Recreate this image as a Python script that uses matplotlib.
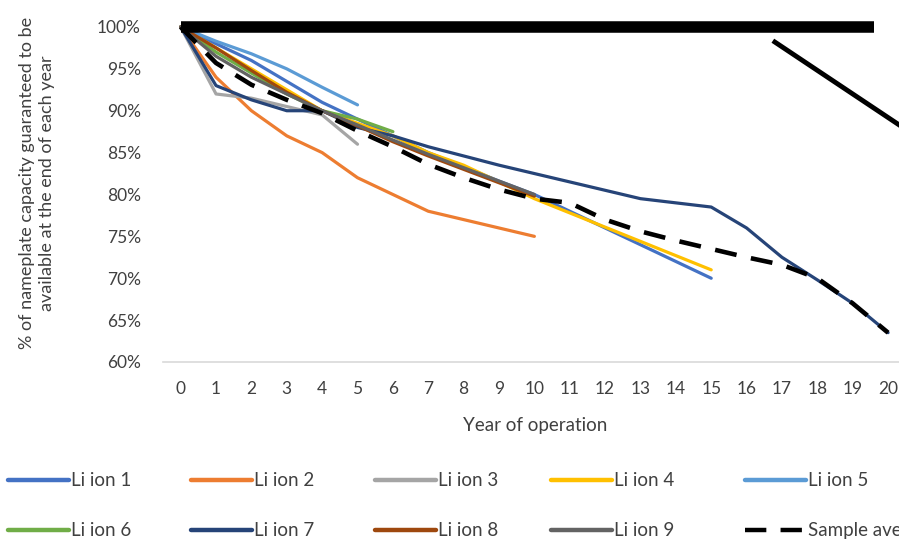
import matplotlib.pyplot as plt

plt.rcParams['font.family'] = ['Lato', 'DejaVu Sans']

years = list(range(21))

# % of nameplate capacity per year
liion_1 = [100, 98, 96, 93.5, 91, 89, 87, 85, 83.3, 81.6, 80, 78, 76, 74, 72, 70]
liion_2 = [100, 94, 90, 87, 85, 82, 80, 78, 77, 76, 75]
liion_3 = [100, 92, 91.5, 90.5, 89.5, 86]
liion_4 = [100, 97.5, 95, 92.5, 90, 88.5, 87, 85, 83.5, 81.5, 79.5, 77.8, 76.1, 74.4, 72.7, 71]
liion_5 = [100, 98.3, 96.8, 95, 92.8, 90.7]
liion_6 = [100, 97, 94.5, 92, 90, 89, 87.5]
liion_7 = [100, 93, 91.3, 90, 90, 88, 87, 85.7, 84.6, 83.5, 82.5, 81.5, 80.5, 79.5, 79, 78.5,
           76, 72.5, 69.8, 67, 63.5]
liion_8 = [100, 97.5, 94.8, 92.2, 90, 88.2, 86.3, 84.6, 83, 81.4, 79.8]
liion_9 = [100, 96.5, 94, 92, 90, 88.3, 86.5, 84.8, 83.2, 81.6, 80]
sample_avg = [100, 95.7, 93.1, 91.3, 89.7, 87.6, 85.7, 83.6, 82, 80.6, 79.5, 79, 77, 75.6, 74.5,
              73.5, 72.5, 71.6, 70, 67, 63.5]

# black marks drawn over the chart
bar_x = [0, 19.6]
bar_y = [100, 100]
slash_x = [16.8, 20.6]
slash_y = [98.2, 87.5]

series = [
    ('Li ion 1', liion_1, '#4472C4'),
    ('Li ion 2', liion_2, '#ED7D31'),
    ('Li ion 3', liion_3, '#A5A5A5'),
    ('Li ion 4', liion_4, '#FFC000'),
    ('Li ion 5', liion_5, '#5B9BD5'),
    ('Li ion 6', liion_6, '#70AD47'),
    ('Li ion 7', liion_7, '#264478'),
    ('Li ion 8', liion_8, '#9E480E'),
    ('Li ion 9', liion_9, '#636363'),
]

fig = plt.figure(figsize=(8.99, 5.44), dpi=100)
ax = fig.add_axes([0.1813, 0.3346, 1.0075 - 0.1813, 0.9504 - 0.3346])

handles = []
for name, vals, col in series:
    h, = ax.plot(years[:len(vals)], vals, color=col, lw=2.3, clip_on=False,
                 solid_capstyle='round', label=name)
    handles.append(h)
h, = ax.plot(years, sample_avg, color='black', lw=3.3, ls=(0, (4.8, 3.2)),
             clip_on=False, label='Sample average')
handles.append(h)

ax.plot(bar_x, bar_y, color='black', lw=8.3, clip_on=False, solid_capstyle='butt')
ax.plot(slash_x, slash_y, color='black', lw=3.5, clip_on=False)

ax.set_xlim(-0.5, 20.5)
ax.set_ylim(60, 100)
ax.set_xticks(years)
ax.set_yticks(range(60, 101, 5))
ax.set_yticklabels([f'{v}%' for v in range(60, 101, 5)])
for s in ['top', 'right', 'left']:
    ax.spines[s].set_visible(False)
ax.spines['bottom'].set_color('#D9D9D9')
ax.spines['bottom'].set_linewidth(1.2)
ax.tick_params(length=0, labelsize=12.5, colors='#404040')
ax.tick_params(axis='y', pad=16)
ax.tick_params(axis='x', pad=14)

fig.text(535 / 899, 1 - 426 / 544, 'Year of operation', ha='center', va='center',
         fontsize=13.5, color='#404040')
fig.text(37 / 899, 1 - 183 / 544,
         '% of nameplate capacity guaranteed to be\navailable at the end of each year',
         rotation=90, ha='center', va='center', fontsize=13, color='#404040',
         linespacing=1.35)

# legend: 5 columns of 2 rows
col_x = [0, 183, 367, 543, 737]
for j in range(5):
    hs = [handles[j], handles[j + 5]]
    lg = fig.legend(handles=hs, labels=[x.get_label() for x in hs], loc='upper left',
                    bbox_to_anchor=(col_x[j] / 899, 1 - 465 / 544), frameon=False,
                    fontsize=13.5, handlelength=3.3, handletextpad=0.1,
                    labelspacing=1.75, borderaxespad=0, labelcolor='#404040')
    for lh in lg.legend_handles:
        lh.set_linewidth(3.2)

fig.savefig('out.png', dpi=100)
